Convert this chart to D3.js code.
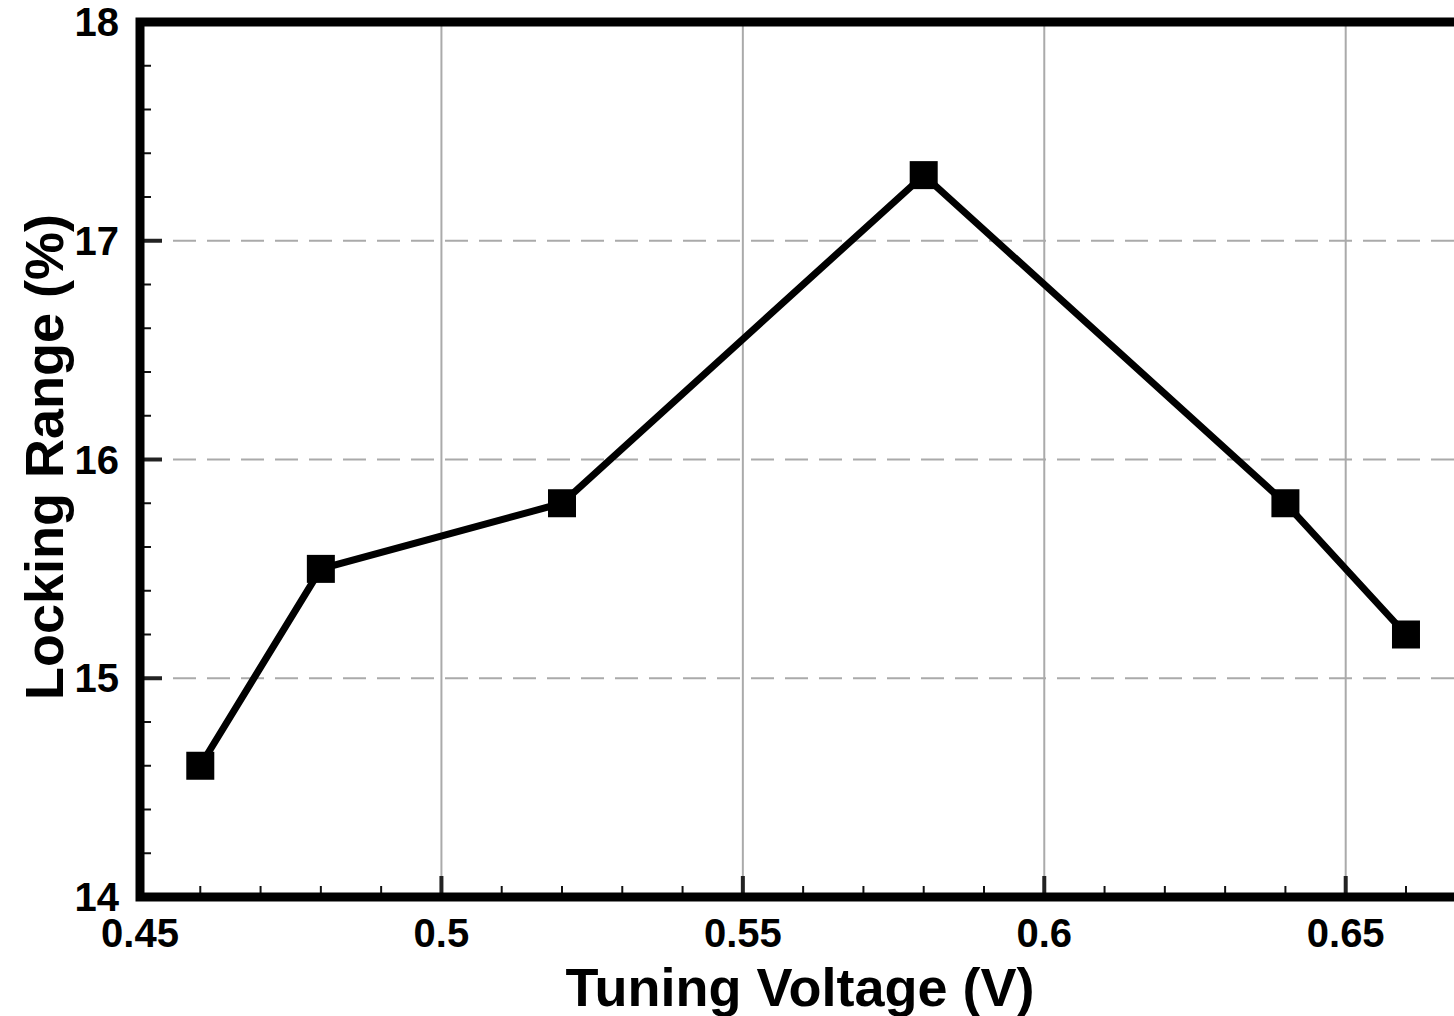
<!DOCTYPE html>
<html>
<head>
<meta charset="utf-8">
<script src="https://cdn.jsdelivr.net/npm/d3@7"></script>
<style>
  html, body { margin: 0; padding: 0; background: #fff; }
  svg { display: block; }
  text { font-family: "Liberation Sans", Arial, sans-serif; font-weight: bold; fill: #000; }
</style>
</head>
<body>
<script>
// Data
const voltages = [0.46, 0.48, 0.52, 0.58, 0.64, 0.66];
const lockingRange = [14.6, 15.5, 15.8, 17.3, 15.8, 15.2];
const xTickValues = [0.45, 0.5, 0.55, 0.6, 0.65];
const xTickLabels = ["0.45", "0.5", "0.55", "0.6", "0.65"];
const yTickValues = [14, 15, 16, 17, 18];
const yTickLabels = ["14", "15", "16", "17", "18"];
const xTitle = "Tuning Voltage (V)";
const yTitle = "Locking Range (%)";

(function () {
const W = 1454, H = 1016;
const pL = 140, pT = 22, pB = 897;
const xScale = d3.scaleLinear().domain([0.45, 0.65]).range([pL, 1345.7]);
const pR = xScale(0.672);
const yScale = d3.scaleLinear().domain([14, 18]).range([pB, pT]);

const svg = d3.select("body").append("svg").attr("width", W).attr("height", H);

// Vertical grid (solid)
svg.append("g").selectAll("line").data(xTickValues.slice(1)).join("line")
  .attr("x1", d => xScale(d)).attr("x2", d => xScale(d))
  .attr("y1", pT).attr("y2", pB)
  .attr("stroke", "#aaaaaa").attr("stroke-width", 2);

// Horizontal grid (dashed)
svg.append("g").selectAll("line").data(yTickValues.slice(1, -1)).join("line")
  .attr("x1", pL + 33).attr("x2", pR)
  .attr("y1", d => yScale(d)).attr("y2", d => yScale(d))
  .attr("stroke", "#aaaaaa").attr("stroke-width", 2)
  .attr("stroke-dasharray", "23,11");

// Minor ticks
const xMinor = d3.range(0.45, 0.6701, 0.01).filter(v => Math.abs(v * 20 - Math.round(v * 20)) > 1e-6);
svg.append("g").selectAll("line").data(xMinor).join("line")
  .attr("x1", d => xScale(d)).attr("x2", d => xScale(d))
  .attr("y1", pB).attr("y2", pB - 11)
  .attr("stroke", "#111").attr("stroke-width", 2);
const yMinor = d3.range(14, 18.001, 0.2).filter(v => Math.abs(v - Math.round(v)) > 1e-6);
svg.append("g").selectAll("line").data(yMinor).join("line")
  .attr("x1", pL).attr("x2", pL + 11)
  .attr("y1", d => yScale(d)).attr("y2", d => yScale(d))
  .attr("stroke", "#111").attr("stroke-width", 2);

// Major ticks
svg.append("g").selectAll("line").data(xTickValues.slice(1)).join("line")
  .attr("x1", d => xScale(d)).attr("x2", d => xScale(d))
  .attr("y1", pB).attr("y2", pB - 21)
  .attr("stroke", "#222").attr("stroke-width", 4);
svg.append("g").selectAll("line").data(yTickValues.slice(1, -1)).join("line")
  .attr("x1", pL).attr("x2", pL + 22)
  .attr("y1", d => yScale(d)).attr("y2", d => yScale(d))
  .attr("stroke", "#222").attr("stroke-width", 4);

// Frame
svg.append("rect")
  .attr("x", pL).attr("y", pT)
  .attr("width", pR - pL).attr("height", pB - pT)
  .attr("fill", "none").attr("stroke", "#000").attr("stroke-width", 9);

// Data line
const pts = voltages.map((v, i) => [v, lockingRange[i]]);
svg.append("path")
  .datum(pts)
  .attr("d", d3.line().x(d => xScale(d[0])).y(d => yScale(d[1])))
  .attr("fill", "none").attr("stroke", "#000").attr("stroke-width", 7)
  .attr("stroke-linejoin", "miter");

// Markers
const ms = 28;
svg.append("g").selectAll("rect").data(pts).join("rect")
  .attr("x", d => xScale(d[0]) - ms / 2).attr("y", d => yScale(d[1]) - ms / 2)
  .attr("width", ms).attr("height", ms).attr("fill", "#000");

// Tick labels
svg.append("g").selectAll("text").data(xTickValues).join("text")
  .attr("x", d => xScale(d)).attr("y", 947)
  .attr("text-anchor", "middle").attr("font-size", 40)
  .text((d, i) => xTickLabels[i]);
svg.append("g").selectAll("text").data(yTickValues).join("text")
  .attr("x", 119).attr("y", d => yScale(d) + 14)
  .attr("text-anchor", "end").attr("font-size", 40)
  .text((d, i) => yTickLabels[i]);

// Axis titles
svg.append("text")
  .attr("x", 800).attr("y", 1006)
  .attr("text-anchor", "middle").attr("font-size", 54)
  .text(xTitle);
svg.append("text")
  .attr("transform", "translate(63,457) rotate(-90)")
  .attr("text-anchor", "middle").attr("font-size", 54)
  .text(yTitle);
})();
</script>
</body>
</html>
